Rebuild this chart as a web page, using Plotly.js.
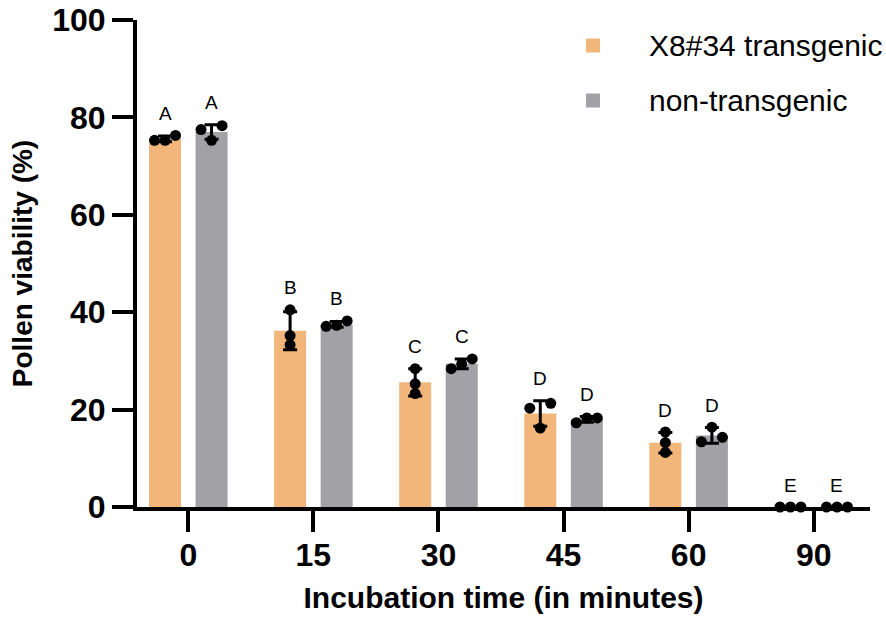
<!DOCTYPE html>
<html>
<head>
<meta charset="utf-8">
<script src="https://cdn.plot.ly/plotly-3.0.1.min.js"></script>
<style>
  html, body { margin: 0; padding: 0; background: #fff; }
  #chart { width: 886px; height: 630px; }
</style>
</head>
<body>
<div id="chart"></div>
<script>
// incubation times (minutes)
const times = ['0', '15', '30', '45', '60', '90']

// X8#34 transgenic
const transMean = [75.6, 36.2, 25.6, 19.2, 13.2, 0]
const transErr = [0.6, 3.9, 2.8, 2.6, 2.1, 0]
const transPts = [
  [76.3, 75.3, 75.3],
  [40.5, 35.2, 33.3],
  [28.4, 25.3, 23.3],
  [20.3, 21.3, 16.2],
  [15.4, 13.2, 11.2],
  [0, 0, 0]
]
const transLetters = ['A', 'B', 'C', 'D', 'D', 'E']

// non-transgenic
const nonMean = [77.0, 37.5, 29.4, 18.0, 14.7, 0]
const nonErr = [1.5, 0.6, 1.0, 0.6, 1.6, 0]
const nonPts = [
  [77.5, 75.3, 78.3],
  [38.2, 37.1, 37.3],
  [30.4, 28.4, 29.4],
  [18.3, 17.3, 18.3],
  [13.4, 16.4, 14.3],
  [0, 0, 0]
]
const nonLetters = ['A', 'B', 'C', 'D', 'D', 'E']

const seriesNames = ['X8#34 transgenic', 'non-transgenic']

const ORANGE = '#F2B67B'
const GREY = '#A1A1A6'
const FONT = 'Arial, "Liberation Sans", sans-serif'

const W = 886, H = 630
const margin = { l: 137, r: 16, t: 20, b: 123, pad: 0 }
const plotW = W - margin.l - margin.r
const plotH = H - margin.t - margin.b
const xRange = [-0.41, 5.45]
const yRange = [0, 100]
const pxPerX = plotW / (xRange[1] - xRange[0])
const pxPerY = plotH / (yRange[1] - yRange[0])

const groupShift = 0.186
const barWidth = 0.256
const markerSize = 11

// page pixel -> paper fraction (for the hand-placed legend)
const px2paperX = px => (px - margin.l) / plotW
const px2paperY = py => 1 - (py - margin.t) / plotH

// GraphPad-like spread: points that overlap are laid side by side
function spread(vals) {
  const order = vals.map((v, i) => i).sort((a, b) => vals[a] - vals[b])
  const thr = 7.5 / pxPerY
  const d = (markerSize - 0.5) / pxPerX
  const offs = new Array(vals.length).fill(0)
  let cluster = [order[0]]
  const flush = () => {
    const n = cluster.length
    cluster.forEach((idx, k) => {
      offs[idx] = n === 1 ? 0 : (k - (n - 1) / 2) * (n === 2 ? 2 * d : d)
    })
  }
  for (let k = 1; k < order.length; k++) {
    const prev = order[k - 1], cur = order[k]
    if (vals[cur] - vals[prev] < thr) {
      cluster.push(cur)
    } else {
      flush()
      cluster = [cur]
    }
  }
  flush()
  return offs
}

function pointTrace(pts, shift) {
  const x = [], y = []
  pts.forEach((vals, i) => {
    const offs = spread(vals)
    vals.forEach((v, k) => {
      x.push(i + shift + offs[k])
      y.push(v)
    })
  })
  return {
    type: 'scatter', mode: 'markers', x: x, y: y,
    marker: { color: '#000', size: markerSize },
    cliponaxis: false, showlegend: false, hoverinfo: 'skip'
  }
}

function barTrace(name, mean, err, color, shift) {
  return {
    type: 'bar', name: name,
    x: times.map((t, i) => i), y: mean,
    width: barWidth, offset: shift - barWidth / 2,
    marker: { color: color, line: { width: 0 } },
    error_y: { type: 'data', array: err, visible: true, color: '#000', thickness: 3, width: 7 },
    showlegend: false, hoverinfo: 'skip'
  }
}

function letterAnnotations(letters, mean, err, pts, shift) {
  return letters.map((txt, i) => ({
    x: i + shift,
    y: Math.max(mean[i] + err[i], ...pts[i]),
    text: txt, showarrow: false,
    yanchor: 'middle', yshift: 22,
    font: { family: FONT, size: 19, color: '#000' }
  }))
}

// legend drawn by hand so it can sit flush with the right edge
const legendColors = [ORANGE, GREY]
const legendRowY = [45.5, 100.5]
const legendShapes = seriesNames.map((n, k) => ({
  type: 'rect', xref: 'paper', yref: 'paper',
  x0: px2paperX(586), x1: px2paperX(600),
  y0: px2paperY(legendRowY[k] + 7), y1: px2paperY(legendRowY[k] - 7),
  fillcolor: legendColors[k], line: { width: 0 }
}))
const legendText = seriesNames.map((n, k) => ({
  xref: 'paper', yref: 'paper',
  x: px2paperX(647), y: px2paperY(legendRowY[k]),
  xanchor: 'left', yanchor: 'middle',
  text: n, showarrow: false,
  font: { family: FONT, size: 30, color: '#000' }
}))

const data = [
  barTrace(seriesNames[0], transMean, transErr, ORANGE, -groupShift),
  barTrace(seriesNames[1], nonMean, nonErr, GREY, groupShift),
  pointTrace(transPts, -groupShift),
  pointTrace(nonPts, groupShift)
]

const layout = {
  width: W, height: H,
  margin: margin,
  paper_bgcolor: '#fff', plot_bgcolor: '#fff',
  font: { family: FONT, color: '#000' },
  barmode: 'overlay',
  showlegend: false,
  xaxis: {
    range: xRange,
    tickmode: 'array', tickvals: times.map((t, i) => i), ticktext: times,
    showgrid: false, zeroline: false,
    showline: true, linecolor: '#000', linewidth: 4,
    ticks: 'outside', ticklen: 21, tickwidth: 4, tickcolor: '#000',
    tickfont: { family: FONT, size: 32, weight: 'bold', color: '#000' },
    ticklabelstandoff: -4,
    title: { text: 'Incubation time (in minutes)', standoff: 16,
      font: { family: FONT, size: 30, weight: 'bold', color: '#000' } }
  },
  yaxis: {
    range: yRange,
    tickvals: [0, 20, 40, 60, 80, 100],
    showgrid: false, zeroline: false,
    showline: true, linecolor: '#000', linewidth: 4,
    ticks: 'outside', ticklen: 21, tickwidth: 4, tickcolor: '#000',
    tickfont: { family: FONT, size: 32, weight: 'bold', color: '#000' },
    title: { text: 'Pollen viability (%)', standoff: 12,
      font: { family: FONT, size: 28, weight: 'bold', color: '#000' } }
  },
  shapes: legendShapes,
  annotations: [
    ...letterAnnotations(transLetters, transMean, transErr, transPts, -groupShift),
    ...letterAnnotations(nonLetters, nonMean, nonErr, nonPts, groupShift),
    ...legendText
  ]
}

Plotly.newPlot('chart', data, layout, { displayModeBar: false, staticPlot: true })
</script>
</body>
</html>
